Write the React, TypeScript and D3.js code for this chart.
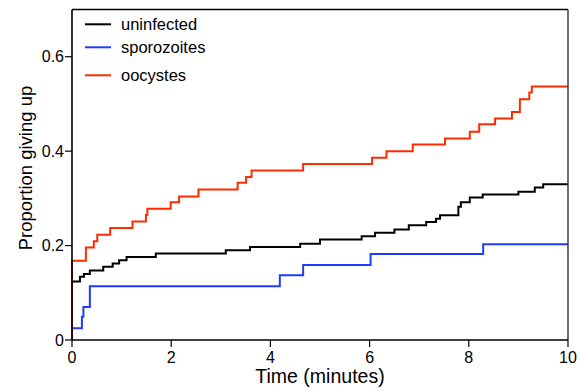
import React from "react";
import * as d3 from "d3";

// Cumulative proportion giving up over time (step curves)
const uninfectedTimes = [0, 0.16, 0.24, 0.36, 0.63, 0.82, 0.95, 1.1, 1.69, 3.1, 3.59, 4.6, 5.0, 5.84, 6.11, 6.5, 6.79, 7.14, 7.34, 7.42, 7.79, 7.84, 8.02, 8.28, 9.0, 9.33, 9.5];
const uninfectedValues = [0.124, 0.134, 0.14, 0.147, 0.155, 0.162, 0.169, 0.176, 0.183, 0.19, 0.197, 0.204, 0.213, 0.22, 0.227, 0.234, 0.243, 0.25, 0.257, 0.264, 0.282, 0.292, 0.302, 0.308, 0.314, 0.323, 0.33];

const sporozoiteTimes = [0, 0.2, 0.23, 0.36, 4.19, 4.66, 6.02, 8.29];
const sporozoiteValues = [0.025, 0.049, 0.07, 0.114, 0.137, 0.159, 0.182, 0.203];

const oocystTimes = [0, 0.28, 0.44, 0.51, 0.77, 1.22, 1.49, 1.52, 1.99, 2.16, 2.55, 3.34, 3.51, 3.62, 4.66, 6.05, 6.34, 6.87, 7.52, 8.02, 8.21, 8.53, 8.87, 9.03, 9.22, 9.27];
const oocystValues = [0.168, 0.196, 0.209, 0.223, 0.237, 0.251, 0.265, 0.278, 0.292, 0.304, 0.319, 0.333, 0.345, 0.359, 0.373, 0.386, 0.4, 0.414, 0.427, 0.441, 0.457, 0.469, 0.483, 0.51, 0.524, 0.537];

const seriesNames = ["uninfected", "sporozoites", "oocystes"];
const seriesColors = ["#000000", "#1e3cff", "#ff2a00"];

const xTicks = [0, 2, 4, 6, 8, 10];
const yTicks = [0, 0.2, 0.4, 0.6];
const yTickLabels = ["0", "0.2", "0.4", "0.6"];

const W = 578;
const H = 391;
const margin = { left: 72, right: 10, top: 9.5, bottom: 51 };
const font = "'Liberation Sans', Arial, Helvetica, sans-serif";

export default function App() {
  const x = d3.scaleLinear().domain([0, 10]).range([margin.left, W - margin.right]);
  const y = d3.scaleLinear().domain([0, 0.7]).range([H - margin.bottom, margin.top]);

  const line = d3
    .line<[number, number]>()
    .x((d) => x(d[0]))
    .y((d) => y(d[1]))
    .curve(d3.curveStepAfter);

  const build = (ts: number[], vs: number[]): [number, number][] => {
    const pts: [number, number][] = [[0, 0]];
    ts.forEach((t, i) => pts.push([t, vs[i]]));
    pts.push([10, vs[vs.length - 1]]);
    return pts;
  };

  const series = [
    build(uninfectedTimes, uninfectedValues),
    build(sporozoiteTimes, sporozoiteValues),
    build(oocystTimes, oocystValues),
  ];

  const x0 = x(0);
  const x1 = x(10);
  const y0 = y(0);
  const y1 = y(0.7);

  const legendY = [24.3, 47.3, 75.3];

  return (
    <svg
      width={W}
      height={H}
      style={{ position: "absolute", left: 0, top: 0, display: "block", background: "#fff" }}
    >
      {series.map((pts, i) => (
        <path
          key={seriesNames[i]}
          d={line(pts) || ""}
          fill="none"
          stroke={seriesColors[i]}
          strokeWidth={2}
        />
      ))}

      {/* frame */}
      <line x1={x0} x2={x1} y1={y1} y2={y1} stroke="#000" strokeWidth={1.6} />
      <line x1={x1} x2={x1} y1={y1} y2={y0} stroke="#333" strokeWidth={1.4} />
      <line x1={x0} x2={x0} y1={y1} y2={y0} stroke="#000" strokeWidth={1.6} />
      <line x1={x0} x2={x1} y1={y0} y2={y0} stroke="#000" strokeWidth={1.4} />

      {/* x axis */}
      {xTicks.map((t) => (
        <g key={t}>
          <line x1={x(t)} x2={x(t)} y1={y0} y2={y0 + 7} stroke="#000" strokeWidth={1.2} />
          <text
            x={x(t)}
            y={362.5}
            textAnchor="middle"
            fontFamily={font}
            fontSize={16}
            fill="#000"
          >
            {t}
          </text>
        </g>
      ))}

      {/* y axis */}
      {yTicks.map((t, i) => (
        <g key={t}>
          <line x1={x0 - 7} x2={x0} y1={y(t)} y2={y(t)} stroke="#000" strokeWidth={1.2} />
          <text
            x={x0 - 8}
            y={y(t)}
            dy="0.36em"
            textAnchor="end"
            fontFamily={font}
            fontSize={16}
            fill="#000"
          >
            {yTickLabels[i]}
          </text>
        </g>
      ))}

      <text
        x={(x0 + x1) / 2}
        y={383}
        textAnchor="middle"
        fontFamily={font}
        fontSize={19.5}
        fill="#000"
      >
        Time (minutes)
      </text>
      <text
        transform={`translate(32,168) rotate(-90)`}
        textAnchor="middle"
        fontFamily={font}
        fontSize={18.5}
        fill="#000"
      >
        Proportion giving up
      </text>

      {/* legend */}
      {seriesNames.map((name, i) => (
        <g key={name}>
          <line
            x1={85}
            x2={111}
            y1={legendY[i]}
            y2={legendY[i]}
            stroke={seriesColors[i]}
            strokeWidth={2}
          />
          <text
            x={121}
            y={legendY[i]}
            dy="0.35em"
            fontFamily={font}
            fontSize={16.5}
            fill="#000"
          >
            {name}
          </text>
        </g>
      ))}
    </svg>
  );
}
